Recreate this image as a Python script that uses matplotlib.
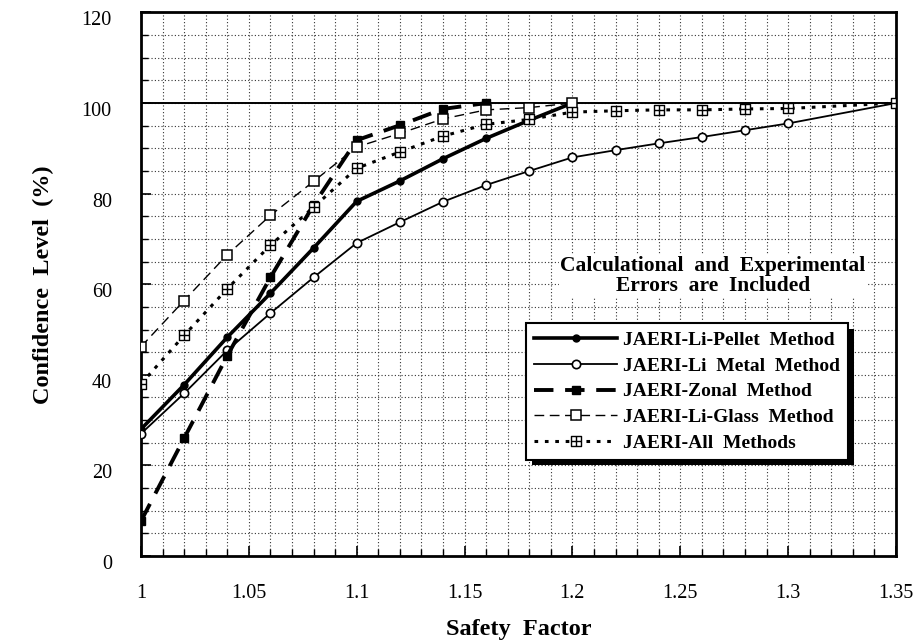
import matplotlib
matplotlib.use("Agg")
import matplotlib.pyplot as plt
import matplotlib.patheffects as pe
from matplotlib.path import Path
from matplotlib.ticker import MultipleLocator
from matplotlib.transforms import ScaledTranslation

plt.rcParams["font.family"] = ["Liberation Serif", "DejaVu Serif"]

# safety factor grids for each method
x_pellet = [1.00, 1.02, 1.04, 1.06, 1.08, 1.10, 1.12, 1.14, 1.16, 1.18, 1.20]
y_pellet = [28.0, 37.8, 48.3, 58.0, 68.0, 78.3, 82.8, 87.7, 92.2, 96.2, 100.0]

x_metal = [1.00, 1.02, 1.04, 1.06, 1.08, 1.10, 1.12, 1.14, 1.16, 1.18,
           1.20, 1.22, 1.24, 1.26, 1.28, 1.30, 1.35]
y_metal = [27.0, 35.9, 45.4, 53.6, 61.5, 69.1, 73.7, 78.2, 81.9, 85.0,
           88.0, 89.6, 91.1, 92.5, 94.0, 95.5, 100.0]

x_zonal = [1.00, 1.02, 1.04, 1.06, 1.08, 1.10, 1.12, 1.14, 1.16]
y_zonal = [7.7, 26.0, 44.2, 61.5, 77.5, 91.8, 95.1, 98.7, 100.0]

x_glass = [1.00, 1.02, 1.04, 1.06, 1.08, 1.10, 1.12, 1.14, 1.16, 1.18, 1.20]
y_glass = [46.2, 56.4, 66.5, 75.2, 82.7, 90.3, 93.3, 96.5, 98.5, 99.0, 100.0]

x_all = [1.00, 1.02, 1.04, 1.06, 1.08, 1.10, 1.12, 1.14, 1.16, 1.18,
         1.20, 1.22, 1.24, 1.26, 1.28, 1.30, 1.35]
y_all = [38.0, 48.7, 59.0, 68.6, 77.0, 85.6, 89.2, 92.7, 95.3, 96.4,
         98.0, 98.3, 98.5, 98.5, 98.7, 98.8, 100.0]

labels = [
    "JAERI-Li-Pellet  Method",
    "JAERI-Li  Metal  Method",
    "JAERI-Zonal  Method",
    "JAERI-Li-Glass  Method",
    "JAERI-All  Methods",
]

# square with a cross inside
boxplus = Path(
    [(-1, -1), (1, -1), (1, 1), (-1, 1), (-1, -1), (0, -1), (0, 1), (-1, 0), (1, 0)],
    [Path.MOVETO, Path.LINETO, Path.LINETO, Path.LINETO, Path.CLOSEPOLY,
     Path.MOVETO, Path.LINETO, Path.MOVETO, Path.LINETO],
)

fig = plt.figure(figsize=(9.19, 6.43), dpi=100)
ax = fig.add_axes([0.1534, 0.1353, 0.8215, 0.8453])

ax.axhline(100, color="black", lw=1.4, zorder=2)

h1, = ax.plot(x_pellet, y_pellet, color="black", lw=2.6, marker="o", ms=5,
              mfc="black", zorder=5)
h2, = ax.plot(x_metal, y_metal, color="black", lw=1.3, marker="o", ms=6,
              mfc="white", mew=1.2, zorder=5)
h3, = ax.plot(x_zonal, y_zonal, color="black", lw=2.8, ls=(0, (5, 3)),
              marker="s", ms=6, mfc="black", zorder=5)
h4, = ax.plot(x_glass, y_glass, color="black", lw=1.0, ls=(0, (7, 4)),
              marker="s", ms=7, mfc="white", mew=1.1, zorder=5)
h5, = ax.plot(x_all, y_all, color="black", lw=2.2, ls=(0, (1.2, 2.2)),
              marker=boxplus, ms=7, mfc="white", mew=1.0, zorder=5)

ax.set_xlim(1.0, 1.35)
ax.set_ylim(0, 120)
ax.xaxis.set_major_locator(MultipleLocator(0.05))
ax.xaxis.set_minor_locator(MultipleLocator(0.01))
ax.yaxis.set_major_locator(MultipleLocator(20))
ax.yaxis.set_minor_locator(MultipleLocator(5))
ax.set_xticks([1.0, 1.05, 1.1, 1.15, 1.2, 1.25, 1.3, 1.35])
ax.set_xticklabels(["1", "1.05", "1.1", "1.15", "1.2", "1.25", "1.3", "1.35"])

ax.grid(True, which="both", color="#333333", lw=0.8, ls=(0, (1, 2)))
ax.tick_params(which="both", direction="in", labelsize=14.5)
ax.tick_params(which="major", length=7, width=1.2)
ax.tick_params(which="minor", length=5, width=1.0)
ax.tick_params(axis="x", pad=20)
ax.tick_params(axis="y", pad=21)
for lbl in ax.get_yticklabels():
    lbl.set_transform(lbl.get_transform() + ScaledTranslation(0, -6 / 100, fig.dpi_scale_trans))
for s in ax.spines.values():
    s.set_linewidth(2.0)

ax.set_xlabel("Safety  Factor", fontsize=17.5, fontweight="bold", labelpad=12)
ax.set_ylabel("Confidence  Level  (%)", fontsize=17.5, fontweight="bold", labelpad=20)

ax.text(1.2652, 61.8, "Calculational  and  Experimental\nErrors  are  Included",
        ha="center", va="center", fontsize=15.5, fontweight="bold",
        linespacing=1.05, zorder=6,
        bbox=dict(facecolor="white", edgecolor="none", pad=1))

leg = ax.legend([h1, h2, h3, h4, h5], labels, loc="upper left",
                bbox_to_anchor=(0.51, 0.428), fancybox=False, framealpha=1,
                edgecolor="black", prop={"weight": "bold", "size": 14},
                handlelength=4.3, handletextpad=0.3, borderpad=0.4,
                labelspacing=0.42, borderaxespad=0)
leg.set_zorder(7)
frame = leg.get_frame()
frame.set_linewidth(1.5)
frame.set_path_effects([pe.SimplePatchShadow(offset=(4, -4), shadow_rgbFace="black", alpha=1.0),
                        pe.Normal()])

fig.savefig("out.png", dpi=100)
